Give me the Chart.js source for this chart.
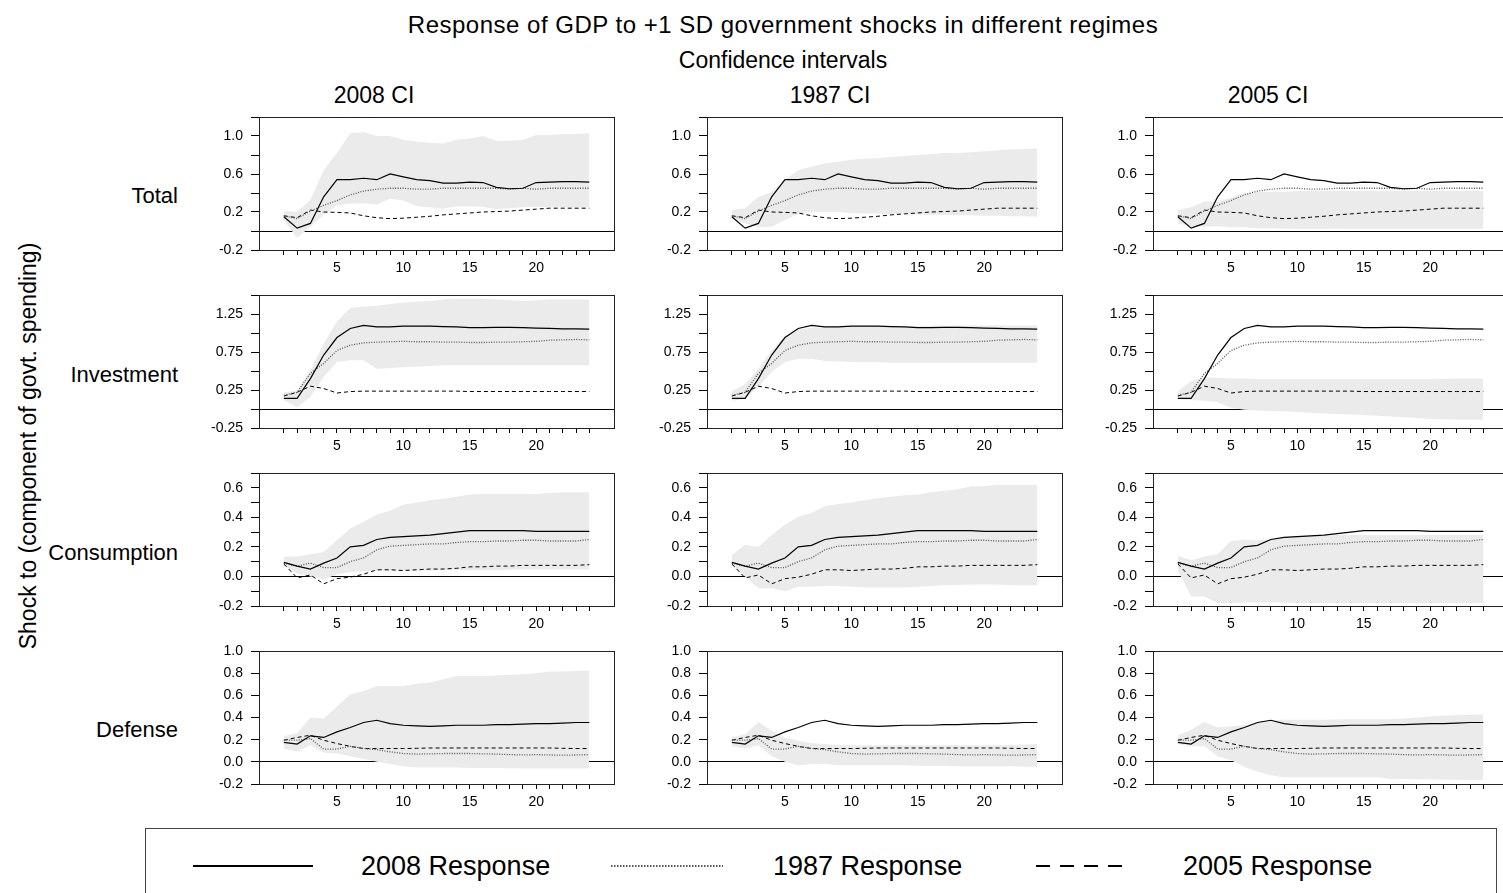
<!DOCTYPE html>
<html>
<head>
<meta charset="utf-8">
<script src="https://cdn.jsdelivr.net/npm/chart.js@4"></script>
<style>
    body { margin: 0; background: #fff; overflow: hidden; font-family: Arial, "Liberation Sans", sans-serif; }
    #page { position: relative; width: 1503px; height: 893px; overflow: hidden; background: #fff; }
    .txt { position: absolute; white-space: nowrap; color: #000; line-height: 1; }
    .c { transform: translate(-50%, -50%); }
    canvas { position: absolute; }
    #legend { position: absolute; left: 145px; top: 828px; width: 1352px; height: 90px; border: 1px solid #444; box-sizing: border-box; }
</style>
</head>
<body>
<div id="page"></div>
<script>
// Impulse responses of GDP, horizons 1..24; one set of lines per row,
// the grey band changes with the column (which regime's CI is shown)
const STEPS = [1, 2, 3, 4, 5, 6, 7, 8, 9, 10, 11, 12, 13, 14, 15, 16, 17, 18, 19, 20, 21, 22, 23, 24];
const X_LABELS = [5, 10, 15, 20];

const ROW_NAMES = ['Total', 'Investment', 'Consumption', 'Defense'];
const COL_NAMES = ['2008 CI', '1987 CI', '2005 CI'];
const LEGEND_LABELS = ['2008 Response', '1987 Response', '2005 Response'];

// --- Total ---
const TOTAL_2008 = [0.15, 0.03, 0.08, 0.36, 0.54, 0.54, 0.555, 0.54, 0.60, 0.57, 0.54, 0.53, 0.505, 0.505, 0.515, 0.51, 0.46, 0.445, 0.45, 0.51, 0.515, 0.52, 0.52, 0.515];
const TOTAL_1987 = [0.16, 0.13, 0.21, 0.27, 0.32, 0.38, 0.42, 0.44, 0.45, 0.45, 0.44, 0.44, 0.45, 0.45, 0.45, 0.45, 0.45, 0.44, 0.45, 0.44, 0.45, 0.45, 0.45, 0.45];
const TOTAL_2005 = [0.16, 0.14, 0.22, 0.20, 0.196, 0.19, 0.16, 0.14, 0.13, 0.135, 0.145, 0.155, 0.17, 0.18, 0.19, 0.20, 0.205, 0.21, 0.22, 0.23, 0.24, 0.24, 0.24, 0.24];
const TOTAL_CI2008_LO = [0.11, -0.07, 0.045, 0.17, 0.27, 0.29, 0.29, 0.28, 0.34, 0.32, 0.26, 0.25, 0.235, 0.26, 0.26, 0.255, 0.23, 0.24, 0.25, 0.255, 0.25, 0.25, 0.25, 0.25];
const TOTAL_CI2008_HI = [0.21, 0.20, 0.33, 0.64, 0.82, 1.03, 1.04, 1.0, 1.0, 0.96, 0.94, 0.93, 0.92, 0.96, 0.975, 1.0, 0.95, 0.95, 0.96, 1.01, 1.01, 1.02, 1.02, 1.03];
const TOTAL_CI1987_LO = [0.13, 0.08, 0.04, 0.045, 0.115, 0.18, 0.20, 0.20, 0.20, 0.19, 0.185, 0.185, 0.18, 0.18, 0.175, 0.17, 0.17, 0.165, 0.165, 0.16, 0.16, 0.155, 0.155, 0.15];
const TOTAL_CI1987_HI = [0.22, 0.24, 0.36, 0.41, 0.54, 0.64, 0.68, 0.71, 0.73, 0.75, 0.76, 0.765, 0.78, 0.79, 0.80, 0.81, 0.82, 0.82, 0.83, 0.84, 0.85, 0.86, 0.86, 0.87];
const TOTAL_CI2005_LO = [0.08, 0.05, 0.045, 0.05, 0.04, 0.04, 0.03, 0.03, 0.025, 0.02, 0.02, 0.02, 0.025, 0.025, 0.025, 0.025, 0.025, 0.025, 0.025, 0.025, 0.025, 0.025, 0.025, 0.025];
const TOTAL_CI2005_HI = [0.22, 0.25, 0.31, 0.31, 0.35, 0.40, 0.41, 0.41, 0.41, 0.42, 0.42, 0.42, 0.42, 0.42, 0.42, 0.42, 0.42, 0.42, 0.42, 0.42, 0.42, 0.42, 0.42, 0.42];

// --- Investment ---
const INV_2008 = [0.14, 0.14, 0.40, 0.71, 0.94, 1.06, 1.10, 1.08, 1.08, 1.09, 1.09, 1.09, 1.085, 1.08, 1.07, 1.07, 1.075, 1.075, 1.07, 1.065, 1.06, 1.055, 1.055, 1.05];
const INV_1987 = [0.18, 0.22, 0.47, 0.60, 0.77, 0.84, 0.87, 0.88, 0.885, 0.89, 0.885, 0.885, 0.88, 0.88, 0.875, 0.875, 0.88, 0.88, 0.885, 0.89, 0.905, 0.91, 0.915, 0.91];
const INV_2005 = [0.17, 0.22, 0.30, 0.27, 0.21, 0.23, 0.235, 0.235, 0.235, 0.235, 0.235, 0.235, 0.235, 0.235, 0.23, 0.23, 0.23, 0.23, 0.23, 0.23, 0.23, 0.23, 0.23, 0.23];
const INV_CI2008_LO = [0.12, 0.02, 0.16, 0.42, 0.62, 0.64, 0.64, 0.53, 0.54, 0.55, 0.56, 0.565, 0.575, 0.575, 0.575, 0.575, 0.575, 0.575, 0.575, 0.575, 0.575, 0.575, 0.575, 0.575];
const INV_CI2008_HI = [0.22, 0.24, 0.51, 0.86, 1.15, 1.33, 1.35, 1.36, 1.38, 1.40, 1.41, 1.42, 1.44, 1.45, 1.45, 1.45, 1.44, 1.43, 1.42, 1.43, 1.44, 1.44, 1.44, 1.44];
const INV_CI1987_LO = [0.11, 0.13, 0.29, 0.49, 0.62, 0.66, 0.66, 0.63, 0.625, 0.62, 0.615, 0.615, 0.61, 0.61, 0.61, 0.61, 0.61, 0.61, 0.61, 0.61, 0.61, 0.61, 0.61, 0.61];
const INV_CI1987_HI = [0.23, 0.33, 0.53, 0.77, 0.95, 1.05, 1.07, 1.08, 1.085, 1.09, 1.09, 1.09, 1.09, 1.09, 1.09, 1.095, 1.095, 1.10, 1.10, 1.10, 1.10, 1.10, 1.10, 1.10];
const INV_CI2005_LO = [0.13, 0.12, 0.11, 0.09, 0.015, -0.01, -0.02, -0.025, -0.03, -0.04, -0.05, -0.06, -0.065, -0.07, -0.08, -0.09, -0.10, -0.11, -0.12, -0.13, -0.135, -0.14, -0.14, -0.14];
const INV_CI2005_HI = [0.23, 0.37, 0.41, 0.41, 0.40, 0.40, 0.39, 0.39, 0.39, 0.39, 0.39, 0.39, 0.39, 0.39, 0.39, 0.39, 0.39, 0.39, 0.39, 0.39, 0.395, 0.40, 0.40, 0.40];

// --- Consumption ---
const CONS_2008 = [0.095, 0.07, 0.05, 0.09, 0.125, 0.20, 0.21, 0.25, 0.265, 0.27, 0.275, 0.28, 0.29, 0.30, 0.31, 0.31, 0.31, 0.31, 0.31, 0.305, 0.305, 0.305, 0.305, 0.305];
const CONS_1987 = [0.09, 0.07, 0.09, 0.06, 0.06, 0.10, 0.125, 0.18, 0.205, 0.21, 0.215, 0.22, 0.22, 0.23, 0.235, 0.235, 0.24, 0.24, 0.245, 0.245, 0.24, 0.24, 0.24, 0.25];
const CONS_2005 = [0.085, -0.01, 0.01, -0.05, -0.015, -0.005, 0.015, 0.045, 0.045, 0.04, 0.045, 0.05, 0.05, 0.055, 0.065, 0.065, 0.07, 0.07, 0.075, 0.075, 0.075, 0.075, 0.075, 0.08];
const CONS_CI2008_LO = [0.07, 0.02, 0.0, -0.02, 0.015, 0.03, 0.035, 0.04, 0.04, 0.04, 0.04, 0.04, 0.045, 0.045, 0.042, 0.042, 0.042, 0.045, 0.047, 0.047, 0.047, 0.047, 0.047, 0.047];
const CONS_CI2008_HI = [0.135, 0.135, 0.15, 0.165, 0.245, 0.325, 0.37, 0.42, 0.445, 0.485, 0.50, 0.515, 0.525, 0.54, 0.555, 0.56, 0.56, 0.56, 0.56, 0.558, 0.565, 0.57, 0.57, 0.57];
const CONS_CI1987_LO = [0.07, 0.0, -0.08, -0.08, -0.10, -0.07, -0.07, -0.065, -0.065, -0.07, -0.075, -0.075, -0.075, -0.075, -0.07, -0.065, -0.06, -0.058, -0.055, -0.055, -0.055, -0.06, -0.06, -0.06];
const CONS_CI1987_HI = [0.145, 0.215, 0.20, 0.28, 0.35, 0.405, 0.43, 0.475, 0.49, 0.50, 0.515, 0.53, 0.54, 0.55, 0.555, 0.57, 0.58, 0.59, 0.61, 0.61, 0.62, 0.62, 0.62, 0.62];
const CONS_CI2005_LO = [0.04, -0.135, -0.135, -0.18, -0.18, -0.175, -0.175, -0.175, -0.177, -0.18, -0.18, -0.18, -0.18, -0.18, -0.18, -0.18, -0.18, -0.18, -0.18, -0.18, -0.18, -0.18, -0.182, -0.182];
const CONS_CI2005_HI = [0.14, 0.11, 0.135, 0.15, 0.24, 0.25, 0.245, 0.25, 0.265, 0.27, 0.275, 0.275, 0.28, 0.28, 0.28, 0.28, 0.28, 0.28, 0.28, 0.28, 0.28, 0.28, 0.28, 0.28];

// --- Defense ---
const DEF_2008 = [0.175, 0.16, 0.235, 0.22, 0.27, 0.31, 0.355, 0.375, 0.345, 0.33, 0.325, 0.32, 0.325, 0.33, 0.33, 0.33, 0.335, 0.335, 0.34, 0.345, 0.345, 0.35, 0.355, 0.355];
const DEF_1987 = [0.195, 0.195, 0.21, 0.115, 0.115, 0.14, 0.12, 0.11, 0.09, 0.075, 0.07, 0.072, 0.075, 0.075, 0.075, 0.072, 0.07, 0.065, 0.062, 0.065, 0.062, 0.06, 0.062, 0.065];
const DEF_2005 = [0.195, 0.22, 0.24, 0.195, 0.165, 0.14, 0.12, 0.12, 0.12, 0.12, 0.122, 0.125, 0.125, 0.125, 0.125, 0.125, 0.125, 0.125, 0.125, 0.125, 0.125, 0.122, 0.12, 0.12];
const DEF_CI2008_LO = [0.12, 0.09, 0.15, 0.085, 0.075, 0.05, 0.025, 0.0, -0.02, -0.04, -0.05, -0.052, -0.052, -0.052, -0.055, -0.055, -0.055, -0.058, -0.06, -0.06, -0.06, -0.06, -0.06, -0.06];
const DEF_CI2008_HI = [0.23, 0.26, 0.40, 0.39, 0.50, 0.61, 0.64, 0.685, 0.685, 0.685, 0.705, 0.715, 0.745, 0.775, 0.775, 0.775, 0.78, 0.785, 0.79, 0.80, 0.815, 0.815, 0.82, 0.825];
const DEF_CI1987_LO = [0.14, 0.12, 0.15, 0.05, 0.0, -0.03, -0.02, -0.02, -0.03, -0.03, -0.03, -0.03, -0.03, -0.03, -0.035, -0.035, -0.035, -0.04, -0.04, -0.04, -0.04, -0.04, -0.045, -0.045];
const DEF_CI1987_HI = [0.22, 0.25, 0.36, 0.28, 0.22, 0.19, 0.17, 0.16, 0.15, 0.15, 0.15, 0.15, 0.15, 0.15, 0.15, 0.15, 0.15, 0.15, 0.15, 0.15, 0.15, 0.155, 0.155, 0.16];
const DEF_CI2005_LO = [0.16, 0.14, 0.14, 0.05, 0.015, -0.045, -0.09, -0.12, -0.14, -0.14, -0.138, -0.138, -0.138, -0.138, -0.14, -0.14, -0.155, -0.155, -0.158, -0.16, -0.16, -0.162, -0.165, -0.165];
const DEF_CI2005_HI = [0.24, 0.29, 0.36, 0.31, 0.32, 0.33, 0.36, 0.375, 0.38, 0.38, 0.38, 0.38, 0.382, 0.385, 0.385, 0.385, 0.385, 0.39, 0.40, 0.41, 0.415, 0.42, 0.425, 0.43];

// y axes per row: every tick gets a mark, only some get a label
const TOTAL_TICKS = [-0.2, 0, 0.2, 0.4, 0.6, 0.8, 1.0, 1.2];
const TOTAL_LABELED = [-0.2, 0.2, 0.6, 1.0];
const INV_TICKS = [-0.25, 0, 0.25, 0.5, 0.75, 1.0, 1.25, 1.5];
const INV_LABELED = [-0.25, 0.25, 0.75, 1.25];
const CONS_TICKS = [-0.2, -0.1, 0, 0.1, 0.2, 0.3, 0.4, 0.5, 0.6, 0.7];
const CONS_LABELED = [-0.2, 0, 0.2, 0.4, 0.6];
const DEF_TICKS = [-0.2, 0, 0.2, 0.4, 0.6, 0.8, 1.0];
const DEF_LABELED = [-0.2, 0, 0.2, 0.4, 0.6, 0.8, 1.0];

const ROWS = [
    { lines: [TOTAL_2008, TOTAL_1987, TOTAL_2005], bands: [[TOTAL_CI2008_LO, TOTAL_CI2008_HI], [TOTAL_CI1987_LO, TOTAL_CI1987_HI], [TOTAL_CI2005_LO, TOTAL_CI2005_HI]], ticks: TOTAL_TICKS, labeled: TOTAL_LABELED, dec: 1 },
    { lines: [INV_2008, INV_1987, INV_2005], bands: [[INV_CI2008_LO, INV_CI2008_HI], [INV_CI1987_LO, INV_CI1987_HI], [INV_CI2005_LO, INV_CI2005_HI]], ticks: INV_TICKS, labeled: INV_LABELED, dec: 2 },
    { lines: [CONS_2008, CONS_1987, CONS_2005], bands: [[CONS_CI2008_LO, CONS_CI2008_HI], [CONS_CI1987_LO, CONS_CI1987_HI], [CONS_CI2005_LO, CONS_CI2005_HI]], ticks: CONS_TICKS, labeled: CONS_LABELED, dec: 1 },
    { lines: [DEF_2008, DEF_1987, DEF_2005], bands: [[DEF_CI2008_LO, DEF_CI2008_HI], [DEF_CI1987_LO, DEF_CI1987_HI], [DEF_CI2005_LO, DEF_CI2005_HI]], ticks: DEF_TICKS, labeled: DEF_LABELED, dec: 1 },
];

// panel geometry (plot area in page pixels)
const COL_LEFT = [259, 707, 1153];
const ROW_TOP = [117, 295, 473, 651];
const PLOT_W = 355, PLOT_H = 133;
const AXIS_W = 60, AXIS_H = 30, PAD = 8;

const LINE_STYLES = [
    { borderColor: '#000', borderWidth: 1.2, borderDash: [] },
    { borderColor: '#555', borderWidth: 1.3, borderDash: [1, 1.5] },
    { borderColor: '#000', borderWidth: 1, borderDash: [4, 3] },
];
const BAND_COLOR = '#ebebeb';
const FONT = 'Arial, "Liberation Sans", sans-serif';

const page = document.getElementById('page');

function addText(text, x, y, size, opts = {}) {
    const el = document.createElement('div');
    el.className = 'txt' + (opts.align === 'right' ? '' : ' c');
    el.textContent = text;
    el.style.fontSize = size + 'px';
    if (opts.spacing) el.style.letterSpacing = opts.spacing + 'px';
    if (opts.align === 'right') {
        el.style.right = (1503 - x) + 'px';
        el.style.top = y + 'px';
        el.style.transform = 'translateY(-50%)';
    } else {
        el.style.left = x + 'px';
        el.style.top = y + 'px';
        if (opts.rotate) el.style.transform = 'translate(-50%, -50%) rotate(-90deg)';
    }
    page.appendChild(el);
}

const toPoints = arr => STEPS.map((x, i) => ({ x, y: arr[i] }));

// top/right edges of the frame; Chart.js only draws the left and bottom axis lines
const framePlugin = {
    id: 'frame',
    afterDatasetsDraw(chart) {
        const { ctx, chartArea: a } = chart;
        ctx.save();
        ctx.strokeStyle = '#222';
        ctx.lineWidth = 1;
        ctx.strokeRect(Math.round(a.left) + 0.5, Math.round(a.top) + 0.5, Math.round(a.right - a.left), Math.round(a.bottom - a.top));
        ctx.restore();
    },
};

function makePanel(r, c) {
    const row = ROWS[r];
    const canvas = document.createElement('canvas');
    canvas.width = AXIS_W + PLOT_W + PAD;
    canvas.height = PAD + PLOT_H + AXIS_H;
    canvas.style.left = (COL_LEFT[c] - AXIS_W) + 'px';
    canvas.style.top = (ROW_TOP[r] - PAD) + 'px';
    page.appendChild(canvas);

    const datasets = row.lines.map((arr, i) => ({
        data: toPoints(arr),
        ...LINE_STYLES[i],
        pointRadius: 0,
        fill: false,
        tension: 0,
    }));
    // band last so it is drawn underneath the lines
    const [lo, hi] = row.bands[c];
    datasets.push({ data: toPoints(lo), borderWidth: 0, borderColor: 'rgba(0,0,0,0)', pointRadius: 0, fill: false });
    datasets.push({ data: toPoints(hi), borderWidth: 0, borderColor: 'rgba(0,0,0,0)', pointRadius: 0, fill: '-1', backgroundColor: BAND_COLOR });

    new Chart(canvas.getContext('2d'), {
        type: 'line',
        data: { datasets },
        options: {
            responsive: false,
            animation: false,
            layout: { padding: { top: PAD, right: PAD, left: 0, bottom: 0 } },
            plugins: { legend: { display: false }, tooltip: { enabled: false } },
            scales: {
                x: {
                    type: 'linear',
                    min: -0.87,
                    max: 25.86,
                    afterBuildTicks: s => { s.ticks = STEPS.map(v => ({ value: v })); },
                    afterFit: s => { s.height = AXIS_H; s.paddingLeft = 0; s.paddingRight = 0; },
                    ticks: {
                        autoSkip: false,
                        maxRotation: 0,
                        padding: 5,
                        color: '#000',
                        font: { size: 14, family: FONT },
                        callback: v => (X_LABELS.includes(v) ? String(v) : ''),
                    },
                    grid: { drawOnChartArea: false, tickLength: 5, tickColor: '#000' },
                    border: { color: '#000' },
                },
                y: {
                    type: 'linear',
                    min: row.ticks[0],
                    max: row.ticks[row.ticks.length - 1],
                    afterBuildTicks: s => { s.ticks = row.ticks.map(v => ({ value: v })); },
                    // fixed axis width, and no extra room for half-labels at the ends
                    afterFit: s => { s.width = AXIS_W; s.paddingTop = 0; s.paddingBottom = 0; },
                    ticks: {
                        autoSkip: false,
                        padding: 8,
                        color: '#000',
                        font: { size: 14, family: FONT },
                        callback: v => (row.labeled.includes(v) ? v.toFixed(row.dec) : ''),
                    },
                    grid: {
                        color: ctx => (ctx.tick && ctx.tick.value === 0 ? '#000' : 'rgba(0,0,0,0)'),
                        tickColor: '#000',
                        tickLength: 8,
                    },
                    border: { color: '#000' },
                },
            },
        },
        plugins: [framePlugin],
    });
}

// headings
addText('Response of GDP to +1 SD government shocks in different regimes', 783, 25, 24, { spacing: 0.5 });
addText('Confidence intervals', 783, 60, 23);
[374, 830, 1268].forEach((x, i) => addText(COL_NAMES[i], x, 95, 23));
[196, 375, 553, 730].forEach((y, i) => addText(ROW_NAMES[i], 178, y, 22, { align: 'right' }));
addText('Shock to (component of govt. spending)', 28, 446, 23, { rotate: true });

for (let r = 0; r < ROWS.length; r++) {
    for (let c = 0; c < COL_NAMES.length; c++) makePanel(r, c);
}

// legend box with line samples
const legend = document.createElement('div');
legend.id = 'legend';
page.appendChild(legend);
const SAMPLE_X = [192, 610, 1035];
const SAMPLE_W = [120, 112, 86];
const LABEL_X = [360, 772, 1182];
const SAMPLE_DASH = ['', '1.5 1.5', '14 10'];
const SAMPLE_W_PX = [2, 1.6, 2];
LEGEND_LABELS.forEach((label, i) => {
    const svg = document.createElementNS('http://www.w3.org/2000/svg', 'svg');
    svg.setAttribute('width', SAMPLE_W[i]);
    svg.setAttribute('height', 6);
    svg.style.position = 'absolute';
    svg.style.left = (SAMPLE_X[i] - 145) + 'px';
    svg.style.top = (865 - 828 - 3) + 'px';
    const ln = document.createElementNS('http://www.w3.org/2000/svg', 'line');
    ln.setAttribute('x1', 0); ln.setAttribute('x2', SAMPLE_W[i]);
    ln.setAttribute('y1', 3); ln.setAttribute('y2', 3);
    ln.setAttribute('stroke', i === 1 ? '#222' : '#000');
    ln.setAttribute('stroke-width', SAMPLE_W_PX[i]);
    if (SAMPLE_DASH[i]) ln.setAttribute('stroke-dasharray', SAMPLE_DASH[i]);
    svg.appendChild(ln);
    legend.appendChild(svg);

    const t = document.createElement('div');
    t.className = 'txt';
    t.textContent = label;
    t.style.fontSize = '27px';
    t.style.left = (LABEL_X[i] - 145) + 'px';
    t.style.top = (865 - 828) + 'px';
    t.style.transform = 'translateY(-50%)';
    legend.appendChild(t);
});
</script>
</body>
</html>
